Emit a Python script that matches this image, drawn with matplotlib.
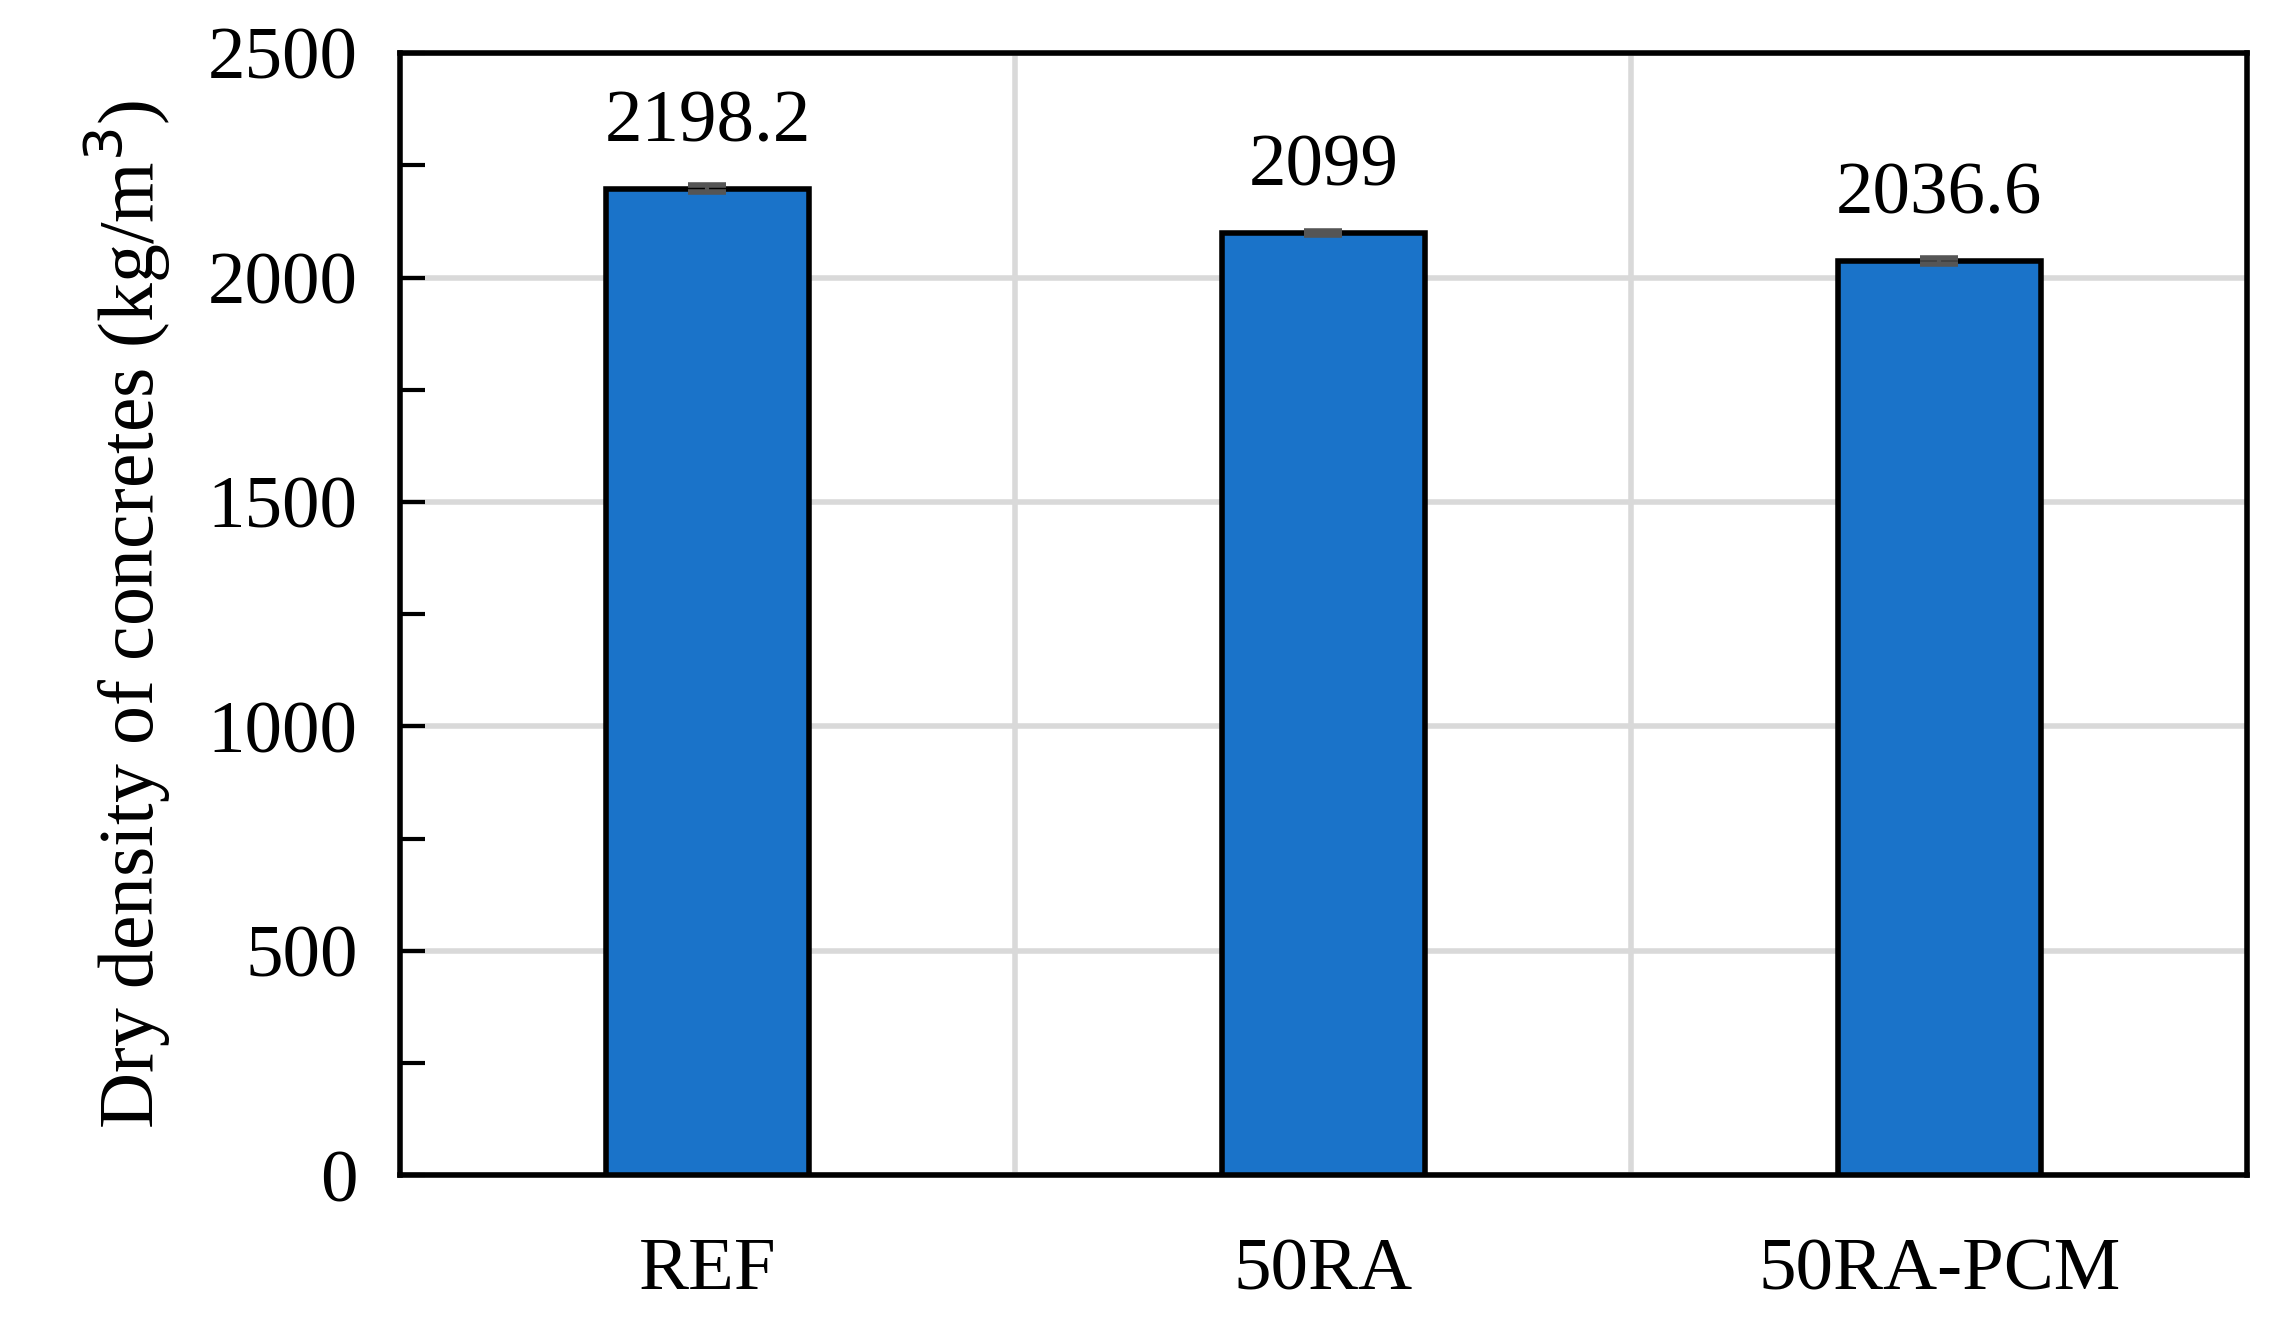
import numpy as np
import matplotlib.pyplot as plt
from matplotlib.ticker import MultipleLocator

# data
categories = ["REF", "50RA", "50RA-PCM"]
density = [2198.2, 2099, 2036.6]
errors = [8, 5, 7]
labels = ["2198.2", "2099", "2036.6"]

plt.rcParams["font.family"] = ["Liberation Serif", "DejaVu Serif"]
plt.rcParams["font.size"] = 54

fig = plt.figure(figsize=(22.7, 13.31), dpi=100)
ax = fig.add_axes([0.176, 0.117, 0.814, 0.843])

x = np.arange(len(categories)) + 0.5
ax.bar(x, density, width=0.33, color="#1a73c9", edgecolor="black",
       linewidth=4, zorder=3)
ax.errorbar(x, density, yerr=errors, fmt="none", ecolor="#555555",
            elinewidth=3, capsize=14, capthick=4, zorder=4)

for xi, v, t in zip(x, density, labels):
    ax.text(xi, v + 70, t, ha="center", va="bottom", fontsize=54)

ax.set_xlim(0, 3)
ax.set_ylim(0, 2500)
ax.set_xticks(x)
ax.set_xticklabels(categories)
ax.set_xticks([1, 2], minor=True)
ax.yaxis.set_major_locator(MultipleLocator(500))
ax.yaxis.set_minor_locator(MultipleLocator(250))

ax.grid(True, which="major", axis="y", color="#d9d9d9", linewidth=4, zorder=0)
ax.grid(True, which="minor", axis="x", color="#d9d9d9", linewidth=4, zorder=0)

ax.tick_params(axis="x", which="both", length=0, pad=45)
ax.tick_params(axis="y", which="both", direction="in", length=18, width=3)
ax.tick_params(axis="y", which="major", pad=30)

for s in ax.spines.values():
    s.set_linewidth(4)

ax.set_ylabel("Dry density of concretes (kg/m$^3$)", fontsize=56, labelpad=25)

fig.savefig("out.png", dpi=100)
